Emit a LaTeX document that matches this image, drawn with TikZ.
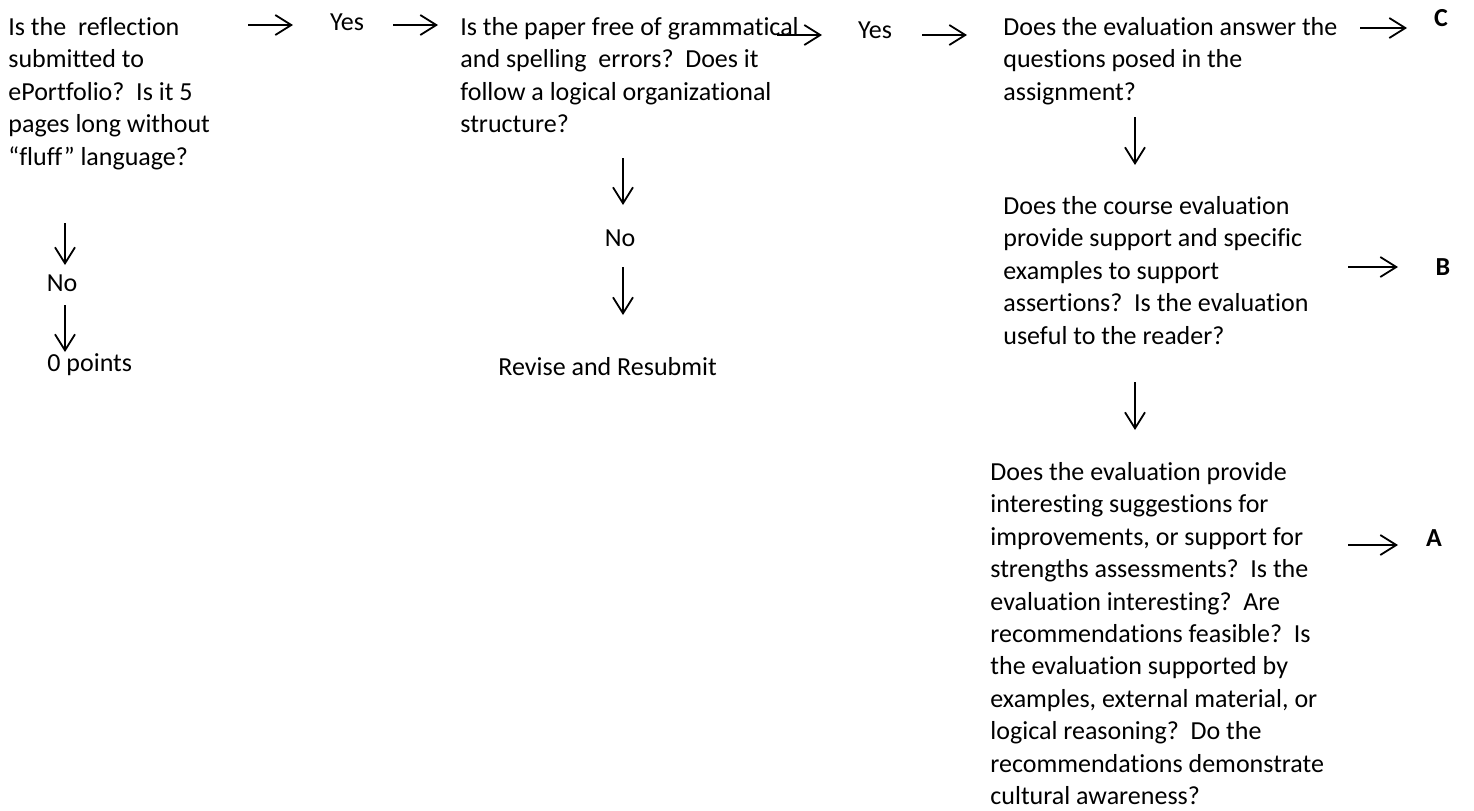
\documentclass[tikz,border=0pt]{standalone}
\usepackage{fontspec}
\setmainfont{Carlito}[Ligatures=NoCommon]
\usetikzlibrary{arrows.meta}
\tikzset{
	qtext/.style={anchor=north west, align=left, inner sep=0pt, font=\fontsize{13}{16.2}\selectfont},
	ans/.style={inner sep=0pt, font=\fontsize{13}{16.2}\selectfont},
	grade/.style={inner sep=0pt, font=\fontsize{13}{16.2}\selectfont\bfseries},
	arr/.style={line width=0.9pt, -{Straight Barb[length=8pt,width=10pt]}}
}

\begin{document}
\begin{tikzpicture}[x=0.5pt,y=-0.5pt]
		%%%%% START %%%%%
		\useasboundingbox (0,0) rectangle (1474,810);
		
		% questions
		\node[qtext] (refl) at (8, 17) {Is the\ \ reflection\\ submitted to\\ ePortfolio?\ \ Is it 5\\ pages long without\\ “fluff” language?};
		\node[qtext] (paper) at (460, 17) {Is the paper free of grammatical\\ and spelling\ \ errors?\ \ Does it\\ follow a logical organizational\\ structure?};
		\node[qtext] (answer) at (1003, 17) {Does the evaluation answer the\\ questions posed in the\\ assignment?};
		\node[qtext] (support) at (1003, 196) {Does the course evaluation\\ provide support and specific\\ examples to support\\ assertions?\ \ Is the evaluation\\ useful to the reader?};
		\node[qtext] (suggest) at (990, 462) {Does the evaluation provide\\ interesting suggestions for\\ improvements, or support for\\ strengths assessments?\ \ Is the\\ evaluation interesting?\ \ Are\\ recommendations feasible?\ \ Is\\ the evaluation supported by\\ examples, external material, or\\ logical reasoning?\ \ Do the\\ recommendations demonstrate\\ cultural awareness?};
		
		% answers
		\node[ans] (yesA) at (347, 22) {Yes};
		\node[ans] (yesB) at (875, 30) {Yes};
		\node[ans] (noA) at (62, 283) {No};
		\node[ans, anchor=west] (zero) at (47, 365) {0 points};
		\node[ans] (noB) at (620, 238) {No};
		\node[ans, anchor=west] (revise) at (498, 367) {Revise and Resubmit};
		
		% grades
		\node[grade] (gradeC) at (1441, 18) {C};
		\node[grade] (gradeB) at (1443, 267) {B};
		\node[grade] (gradeA) at (1434, 538) {A};
		
		% arrow ends
		\coordinate (r1) at (248, 25);  \coordinate (r2) at (293, 25);
		\coordinate (r3) at (393, 25);  \coordinate (r4) at (438, 25);
		\coordinate (r5) at (777, 35);  \coordinate (r6) at (822, 35);
		\coordinate (r7) at (922, 35);  \coordinate (r8) at (967, 35);
		\coordinate (c1) at (1360, 28); \coordinate (c2) at (1407, 28);
		\coordinate (b1) at (1348, 267); \coordinate (b2) at (1398, 267);
		\coordinate (a1) at (1348, 545); \coordinate (a2) at (1398, 545);
		\coordinate (d1) at (65, 223);  \coordinate (d2) at (65, 265);
		\coordinate (d3) at (65, 305);  \coordinate (d4) at (65, 352);
		\coordinate (m1) at (623, 158); \coordinate (m2) at (623, 205);
		\coordinate (m3) at (623, 267); \coordinate (m4) at (623, 315);
		\coordinate (v1) at (1135, 117); \coordinate (v2) at (1135, 165);
		\coordinate (v3) at (1135, 382); \coordinate (v4) at (1135, 430);
		
		\draw[arr] (r1) -- (r2);
		\draw[arr] (r3) -- (r4);
		\draw[arr] (r5) -- (r6);
		\draw[arr] (r7) -- (r8);
		\draw[arr] (c1) -- (c2);
		\draw[arr] (b1) -- (b2);
		\draw[arr] (a1) -- (a2);
		
		\draw[arr] (d1) -- (d2);
		\draw[arr] (d3) -- (d4);
		\draw[arr] (m1) -- (m2);
		\draw[arr] (m3) -- (m4);
		\draw[arr] (v1) -- (v2);
		\draw[arr] (v3) -- (v4);
		
		%%%%% END %%%%%
\end{tikzpicture}
\end{document}
